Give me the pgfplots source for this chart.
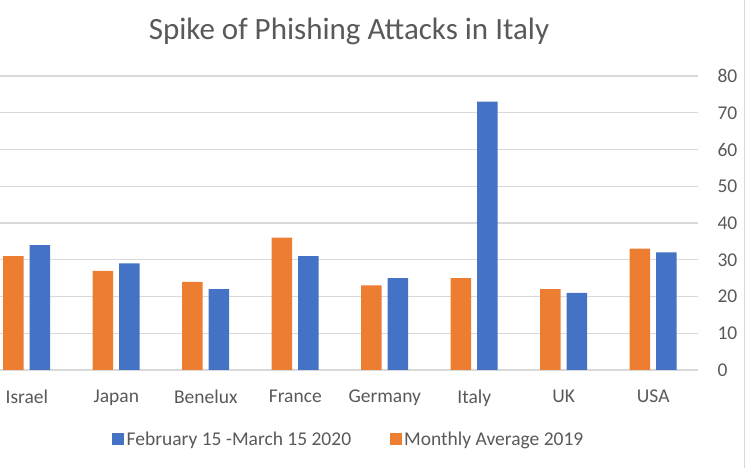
\documentclass[border=0pt]{standalone}
\usepackage{pgfplots}
\pgfplotsset{compat=1.18}
\usepackage{fontspec}
\setmainfont{Carlito}
\definecolor{cblue}{HTML}{4472C4}
\definecolor{corange}{HTML}{ED7D31}
\definecolor{gridc}{HTML}{D9D9D9}
\definecolor{txt}{HTML}{595959}
\begin{document}
\begin{tikzpicture}[x=1bp,y=1bp]
\useasboundingbox (0,0) rectangle (750,468);
\draw[gridc, line width=0.8bp] (744,0) -- (744,468);
\begin{axis}[
  at={(0bp,98bp)}, anchor=south west,
  scale only axis, width=698bp, height=294bp,
  ybar, bar width=20.5bp,
  xmin=-0.3, xmax=7.5, ymin=0, ymax=80,
  ytick={0,10,...,80},
  xtick={0,...,7},
  xticklabels={Israel,Japan,Benelux,France,Germany,Italy,UK,USA},
  axis line style={draw=none},
  tick style={draw=none},
  ymajorgrids, grid style={gridc, line width=1.2bp},
  yticklabel pos=right,
  /pgf/number format/assume math mode=true,
  ticklabel style={font=\fontsize{19.5bp}{23bp}\selectfont, text=txt},
  yticklabel style={anchor=west, xshift=16bp},
  xticklabel style={yshift=-12bp},
  title={Spike of Phishing Attacks in Italy},
  title style={at={(0.5,1)}, anchor=base, yshift=31bp, font=\fontsize{31bp}{36bp}\selectfont, text=txt},
  legend columns=2,
  reverse legend,
  legend style={at={(0.5,0)}, anchor=center, yshift=-69bp, draw=none, fill=none,
    font=\fontsize{19.5bp}{23bp}\selectfont, text=txt,
    nodes={inner sep=2.5bp},
    /tikz/every even column/.append style={column sep=36bp}},
  legend image code/.code={\fill[#1, draw=none] (0bp,-6bp) rectangle (12bp,6bp);},
]
\addplot[fill=corange, draw=none, bar shift=-13.5bp] coordinates {
  (0,31) (1,27) (2,24) (3,36) (4,23) (5,25) (6,22) (7,33)};
\addlegendentry{Monthly Average 2019}
\addplot[fill=cblue, draw=none, bar shift=13bp] coordinates {
  (0,34) (1,29) (2,22) (3,31) (4,25) (5,73) (6,21) (7,32)};
\addlegendentry{February 15 -March 15 2020}
\end{axis}
\end{tikzpicture}
\end{document}
